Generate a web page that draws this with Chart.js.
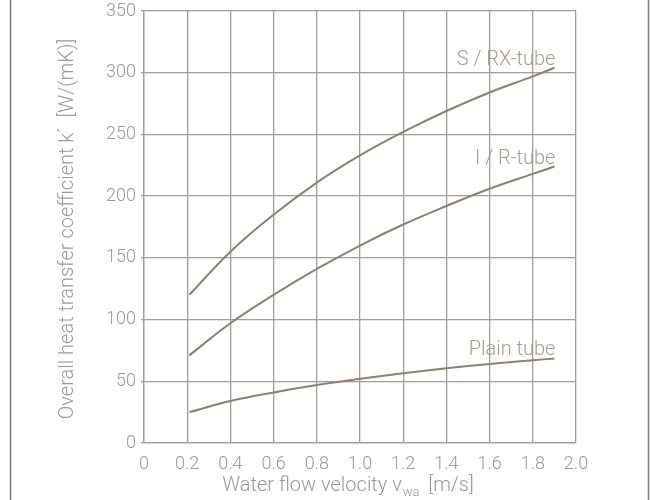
<!DOCTYPE html>
<html>
<head>
<meta charset="utf-8">
<script src="https://cdn.jsdelivr.net/npm/chart.js@4"></script>
<style>
  html, body { margin: 0; padding: 0; background: #fff; }
  #wrap { width: 651px; height: 500px; }
</style>
</head>
<body>
<div id="wrap"><canvas id="myChart" width="651" height="500"></canvas></div>
<script>
// values
const velocity  = [0.21, 0.4, 0.6, 0.8, 1.0, 1.2, 1.4, 1.6, 1.8, 1.9];
const srxTube   = [120, 155, 185, 211, 233, 252, 269, 284, 297, 304];
const irTube    = [71, 97, 120, 141, 160, 177, 192, 206, 218, 224];
const plainTube = [25, 34, 41, 47, 52, 56.5, 60.5, 64, 67, 68.5];
const seriesNames = ['S / RX-tube', 'I / R-tube', 'Plain tube'];

const FONT = 'Roboto, "Liberation Sans", sans-serif';
const lineColor = '#8f8070';
const labelColor = '#a89d90';
const textColor = '#9a9a9a';
const gridColor = '#9d9d9d';

const toPoints = ys => velocity.map((x, i) => ({ x: x, y: ys[i] }));

// side frame lines, curve labels and the axis titles
const extras = {
  id: 'extras',
  afterDraw(chart) {
    const ctx = chart.ctx;
    const area = chart.chartArea;
    ctx.save();
    ctx.strokeStyle = '#7a7a7a';
    ctx.lineWidth = 1.5;
    ctx.beginPath();
    ctx.moveTo(10.5, 0); ctx.lineTo(10.5, 500);
    ctx.moveTo(648.5, 0); ctx.lineTo(648.5, 500);
    ctx.stroke();

    // curve labels at the end of each line
    ctx.font = '300 20px ' + FONT;
    ctx.fillStyle = labelColor;
    ctx.textAlign = 'right';
    ctx.textBaseline = 'alphabetic';
    chart.data.datasets.forEach((ds, i) => {
      const meta = chart.getDatasetMeta(i);
      const last = meta.data[meta.data.length - 1];
      ctx.fillText(seriesNames[i], last.x + 1, last.y - 3);
    });

    // y title
    ctx.fillStyle = textColor;
    ctx.font = '300 20px ' + FONT;
    ctx.translate(68, (area.top + area.bottom) / 2 + 2);
    ctx.rotate(-Math.PI / 2);
    ctx.textAlign = 'center';
    ctx.textBaseline = 'middle';
    ctx.fillText('Overall heat transfer coefficient k\u00b4  [W/(mK)]', 0, 0);
    ctx.setTransform(1, 0, 0, 1, 0, 0);

    // x title with subscript
    const a = 'Water flow velocity v';
    const sub = 'wa';
    const b = '  [m/s]';
    ctx.font = '300 20px ' + FONT;
    const wa = ctx.measureText(a).width;
    const wb = ctx.measureText(b).width;
    ctx.font = '300 13px ' + FONT;
    const ws = ctx.measureText(sub).width;
    const total = wa + ws + wb;
    let x0 = 348 - total / 2;
    const base = 491;
    ctx.textAlign = 'left';
    ctx.textBaseline = 'alphabetic';
    ctx.font = '300 20px ' + FONT;
    ctx.fillText(a, x0, base);
    ctx.font = '300 13px ' + FONT;
    ctx.fillText(sub, x0 + wa + 1, base + 5);
    ctx.font = '300 20px ' + FONT;
    ctx.fillText(b, x0 + wa + ws, base);
    ctx.restore();
  }
};

const mkSet = (data) => ({
  data: toPoints(data),
  borderColor: lineColor,
  borderWidth: 2,
  pointRadius: 0,
  fill: false,
  tension: 0.4
});

new Chart('myChart', {
  type: 'line',
  data: {
    datasets: [mkSet(srxTube), mkSet(irTube), mkSet(plainTube)]
  },
  options: {
    responsive: false,
    animation: false,
    layout: { padding: { left: 84, right: 75, top: 11, bottom: 17 } },
    plugins: { legend: { display: false }, tooltip: { enabled: false } },
    scales: {
      x: {
        type: 'linear',
        min: 0, max: 2,
        afterFit(scale) { scale.height = 40; },
        grid: { color: gridColor, lineWidth: 1.3, drawTicks: false },
        border: { color: gridColor, width: 1.3 },
        ticks: {
          stepSize: 0.2,
          padding: 11,
          color: textColor,
          font: { family: FONT, size: 18, weight: '300' },
          callback: v => (Math.abs(v) < 1e-9 ? '0' : v.toFixed(1))
        }
      },
      y: {
        min: 0, max: 350,
        afterFit(scale) { scale.width = 60; },
        grid: { color: gridColor, lineWidth: 1.3, tickLength: 3 },
        border: { color: gridColor, width: 1.3 },
        ticks: {
          stepSize: 50,
          padding: 5,
          color: textColor,
          font: { family: FONT, size: 18, weight: '300', lineHeight: 0.6 }
        }
      }
    }
  },
  plugins: [extras]
});
</script>
</body>
</html>
